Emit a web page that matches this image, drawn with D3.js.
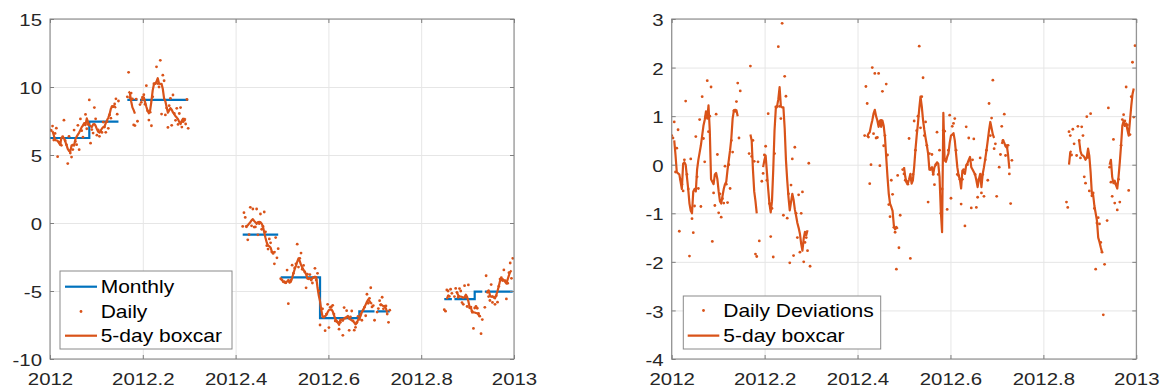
<!DOCTYPE html>
<html>
<head>
<meta charset="utf-8">
<script src="https://cdn.jsdelivr.net/npm/d3@7"></script>
<style>
  html, body { margin: 0; padding: 0; background: #fff; }
  svg { display: block; }
</style>
</head>
<body>
<svg id="chart" width="1163" height="389"></svg>
<script>
// ---------------------------------------------------------------------------
// Data: daily deviations from the monthly mean (day 0 = 1 Jan 2012), the
// 5-day boxcar of those deviations, and the monthly means.
// ---------------------------------------------------------------------------
const monthNames    = ["Jan","Feb","Mar","Apr","May","Jun","Jul","Aug","Sep","Oct","Nov","Dec"];
const monthStartDay = [0, 31, 60, 91, 121, 152, 182, 213, 244, 274, 305, 335];
const monthlyMean   = [6.25, 7.45, 9.05, 9.05, null, -0.85, -4.0, -7.0, -6.5, null, -5.6, -5.05];

// Daily deviations, one value per day from the given start day (null = no data)
const devJanFebStart = 0;
const devJanFeb = [0.6, 0.55, 0.88, -0.15, 0.34, 0.72, -1.37, -0.3, -0.4, -0.54,
  0.1, 1.31, -0.2, -0.5, -1.88, 0.12, -1.11, -1.40, -0.85, 0.58,
  -0.25, -0.49, 0.93, -0.86, 1.40, 0.54, 0.06, 1.0, 1.73, 0.68,
  1.0, 1.60, -1.58, -0.58, -0.84, 1.04, 0.21, -0.99, -0.6, -1.08,
  -0.7, -0.79, -0.03, -0.4, -0.78, 0.0, -0.49, 0.5, 0.26, 1.11,
  1.1, 1.3, 1.68, 0.55, 1.52];

const devMarAprStart = 61;
const devMarApr = [0.23, 2.03, 0.17, 0.5, 0.07, -1.84, -1.89, 0.06, -1.57, null,
  -0.34, -0.18, 0.2, 0.38, -0.32, 1.05, -0.80, -1.48, -0.9, -1.90,
  0.23, 1.19, 1.2, 2.43, 1.2, 0.95, 2.91, -1.04, 1.82, 1.41,
  -1.10, -0.6, -2.02, -0.42, 0.12, -1.87, 0.36, -1.0, -1.5, -0.62,
  -1.8, -1.00, -0.56, -2.0, -1.6, -1.5, -1.77, 0.03, -2.09];

const devJunStart = 152;
const devJun = [0.6, 1.61, 1.26, 0.57, -0.39, 0.0, 2.0, 0.64, 1.88, 0.55,
  0.56, 1.88, -0.02, 0.91, 1.51, 0.39, 0.6, 1.66, 0.2, -0.82,
  -1.07, -0.32, -0.61, -1.29, -1.39, -2.15, -0.22, -1.71, -1.04];

const devJulSepStart = 182;
const devJulSep = [-0.1, -0.19, -0.32, -0.34, -0.4, 0.54, -1.93, -0.32, -0.2, 0.90,
  0.3, 0.7, 1.0, 2.44, 0.76, 1.4, 1.79, 0.6, 0.88, 0.4,
  -0.77, 0.23, -0.1, 0.21, -0.2, -0.41, 0.0, 0.67, -0.2, 0.30,
  -1.0, -0.5, 0.71, 0.69, 0.1, -0.92, 0.3, 1.02, -0.69, 0.79,
  0.85, 0.95, 0.3, -0.2, -0.22, -0.3, -0.81, -0.3, -0.1, -1.26,
  0.78, 0.0, 0.55, 0.1, -0.89, 0.1, 0.53, -0.2, -0.88, -0.67,
  -0.3, 0.14, -0.58, -0.2, -0.65, 0.1, 0.3, -0.32, 1.26, 0.6,
  0.96, 1.74, 0.33, 0.43, -0.65, null, -0.05, 0.21, 0.79, 0.5,
  1.04, 0.19, 0.36, 0.4, -0.19, -0.80, 0.09];

const devNovDecStart = 311;
const devNovDec = [-0.77, -0.88, 0.68, 0.60, 0.2, 0.73, 0.43, null, 0.19, 0.79,
  0.5, 0.14, 0.78, 0.60, -0.25, -0.38, 0.99, 0.15, -0.54, 1.05,
  -0.64, -0.58, -0.9, -2.15, -1.2, -1.09, -1.22, -1.6, -1.8, -3.09,
  -2.05, null, -1.15, 1.17, -0.05, -0.36, -0.65, 0.52, -0.79, -0.4,
  -0.93, -0.3, -0.77, 0.4, 0.93, 1.03, 0.9, 1.60, 0.82, -0.53,
  0.62, 1.40, 2.11, 0.98, 2.45];

// 5-day boxcar of the deviations, one value per day from the given start day
const boxJanFebStart = 2;
const boxJanFeb = [0.5, 0.2, -0.15, -0.18, -0.2, -0.35, -0.5, 0.02, 0.05, 0.0,
  -0.25, -0.5, -0.8, -0.95, -1.0, -0.55, -0.5, -0.55, -0.1, 0.1,
  0.25, 0.4, 0.6, 0.8, 0.92, 1.1, 0.95, 1.22, 0.7, -0.3,
  -0.35, -0.4, -0.2, -0.17, -0.3, -0.55, -0.75, -0.8, -0.65, -0.5,
  -0.4, -0.35, -0.1, 0.1, 0.3, 0.55, 0.95, 1.12, 1.13, 1.12, 1.0];
const boxMarStart = 62;
const boxMar = [0.62, 0.5, -0.1, -0.55, -0.75, -1.0];
const boxMarAprStart = 72;
const boxMarApr = [-0.05, 0.09, 0.19, -0.15, -0.5, -0.8, -0.98, -0.75, -0.1, 0.7,
  1.15, 1.2, 1.35, 1.6, 1.2, 1.18, 1.18, 0.75, 0.1, -0.32,
  -0.67, -0.94, -0.77, -0.6, -0.72, -0.92, -1.05, -1.2, -1.3, -1.42,
  -1.63, -1.77, -1.52, -1.38, -1.45, -1.35];
const boxJunStart = 154;
const boxJun = [0.57, 0.64, 0.67, 0.8, 0.91, 1.05, 1.13, 1.0, 0.91, 0.78,
  0.91, 0.78, 0.91, 0.8, 0.57, 0.15, -0.25, -0.6, -0.8, -0.87,
  -0.95, -1.25, -1.33, -1.28, -1.32];
const boxJulSepStart = 183;
const boxJulSep = [-0.05, -0.25, -0.37, -0.39, -0.3, -0.19, -0.39, -0.32, -0.05, 0.3,
  0.6, 0.85, 1.15, 1.4, 1.2, 0.92, 0.72, 0.55, 0.4, 0.23,
  -0.1, -0.08, -0.05, -0.19, -0.05, 0.0, 0.05, 0.02, -0.25, -0.95,
  -1.39, 1.07, 0.09, 0.06, 0.16, 0.23, 0.45, 0.6, 0.62, 0.65,
  0.5, 0.23, -0.05, -0.22, -0.3, -0.49, -0.12, -0.15, -0.19, -0.01,
  0.03, 0.1, 0.16, -0.05, -0.1, -0.15, -0.2, -0.32, -0.46, -0.3,
  -0.19, -0.46, -0.19, -0.05, 0.12, 0.3, 0.5, 0.71, 0.88, 0.75,
  0.62, 0.55];
const boxSepStart = 260;
const boxSep = [0.43, 0.5, 0.45, 0.38, 0.4, 0.2, -0.08];
const boxNovStart = 313;
const boxNov = [0.0, 0.26, 0.28];
const boxLateNovStart = 321;
const boxLateNov = [0.49, 0.28, 0.2, 0.19, 0.16, 0.1, 0.15, 0.33, 0.18, -0.15,
  -0.6, -0.62, -0.85, -1.0, -1.15, -1.5, -1.59, -1.7, -1.8];
const boxDecStart = 345;
const boxDec = [0.0, 0.1, -0.25, -0.38, -0.33, -0.42, -0.49, -0.25, 0.05, 0.4,
  0.8, 0.9, 0.8, 0.85, 0.72, 0.6, 0.9, 1.2, 1.45, 1.57];

// Axis ticks
const xTickValues  = [2012, 2012.2, 2012.4, 2012.6, 2012.8, 2013];
const xTickLabels  = ["2012", "2012.2", "2012.4", "2012.6", "2012.8", "2013"];
const leftYTicks   = [-10, -5, 0, 5, 10, 15];
const rightYTicks  = [-4, -3, -2, -1, 0, 1, 2, 3];

// ---------------------------------------------------------------------------
// Derived series
// ---------------------------------------------------------------------------
const DAYS = 366; // 2012 is a leap year
const toYear = d => 2012 + d / DAYS;

const devSegments = [
  [devJanFebStart, devJanFeb], [devMarAprStart, devMarApr], [devJunStart, devJun],
  [devJulSepStart, devJulSep], [devNovDecStart, devNovDec]];
const boxSegments = [
  [boxJanFebStart, boxJanFeb], [boxMarStart, boxMar], [boxMarAprStart, boxMarApr],
  [boxJunStart, boxJun], [boxJulSepStart, boxJulSep], [boxSepStart, boxSep],
  [boxNovStart, boxNov], [boxLateNovStart, boxLateNov], [boxDecStart, boxDec]];

const devByDay = new Map();
devSegments.forEach(([s, vals]) => vals.forEach((v, i) => { if (v != null) devByDay.set(s + i, v); }));
const boxByDay = new Map();
boxSegments.forEach(([s, vals]) => vals.forEach((v, i) => boxByDay.set(s + i, v)));

const monthIndex = d => d3.bisectRight(monthStartDay, d) - 1;
const monthlyAt  = d => (d < 0 ? null : monthlyMean[monthIndex(d)]);
const dailyAt    = d => devByDay.has(d) ? monthlyAt(d) + devByDay.get(d) : null;

const allDays = d3.range(0, DAYS);

// Monthly mean, shown on the days that have daily data
const monthlySeries = allDays.map(d => ({ t: toYear(d), v: devByDay.has(d) ? monthlyAt(d) : null }));
// Daily values = monthly mean + deviation
const dailySeries = allDays.filter(d => devByDay.has(d)).map(d => ({ t: toYear(d), v: dailyAt(d) }));
const devSeries   = allDays.filter(d => devByDay.has(d)).map(d => ({ t: toYear(d), v: devByDay.get(d) }));
const boxDevSeries = allDays.map(d => ({ t: toYear(d), v: boxByDay.has(d) ? boxByDay.get(d) : null }));
// 5-day boxcar of the daily values: inside a month it is the monthly mean plus
// the boxcar of the deviations; across a month change, average the daily values.
const boxDailySeries = allDays.map(d => {
  const win = d3.range(d - 2, d + 3);
  if (monthIndex(d - 2) === monthIndex(d + 2) && boxByDay.has(d) && monthlyAt(d) != null) {
    return { t: toYear(d), v: monthlyAt(d) + boxByDay.get(d) };
  }
  if (win.every(k => devByDay.has(k))) return { t: toYear(d), v: d3.mean(win, dailyAt) };
  return { t: toYear(d), v: null };
});

// ---------------------------------------------------------------------------
// Drawing
// ---------------------------------------------------------------------------
const BLUE = "#0072BD", ORANGE = "#D95319";
const FONT = "'Liberation Sans', Arial, Helvetica, sans-serif";
const TICK_SIZE = 17, TICK_STRETCH = 1.2, LEGEND_STRETCH = 1.2;
const DOT_R = 1.4, LINE_W = 2.2;
const svg = d3.select("#chart");
const defs = svg.append("defs");

const panels = [
  { id: "left",
    x: d3.scaleLinear().domain([2012, 2013]).range([50, 514]),
    y: d3.scaleLinear().domain([-10, 15]).range([359, 19]),
    yTicks: leftYTicks },
  { id: "right",
    x: d3.scaleLinear().domain([2012, 2013]).range([671.7, 1136.3]),
    y: d3.scaleLinear().domain([-4, 3]).range([359, 19]),
    yTicks: rightYTicks }
];

function styleGrid(sel) {
  sel.select(".domain").remove();
  sel.selectAll(".tick line").attr("stroke", "#e6e6e6").attr("stroke-width", 1);
}

function drawGrid(p) {
  const [x0, x1] = p.x.range(), [y0, y1] = p.y.range();
  const g = svg.append("g");
  g.append("g").attr("transform", `translate(0,${y0})`)
    .call(d3.axisBottom(p.x).tickValues(xTickValues).tickSize(-(y0 - y1)).tickFormat(""))
    .call(styleGrid);
  g.append("g").attr("transform", `translate(${x0},0)`)
    .call(d3.axisLeft(p.y).tickValues(p.yTicks).tickSize(-(x1 - x0)).tickFormat(""))
    .call(styleGrid);
  defs.append("clipPath").attr("id", "clip-" + p.id)
    .append("rect").attr("x", x0).attr("y", y1).attr("width", x1 - x0).attr("height", y0 - y1);
}

function styleTicks(sel) {
  sel.select(".domain").remove();
  sel.selectAll(".tick line").attr("stroke", "#7f7f7f").attr("stroke-width", 1);
  sel.attr("font-family", FONT).attr("font-size", TICK_SIZE);
}

function drawAxes(p) {
  const [x0, x1] = p.x.range(), [y0, y1] = p.y.range();
  const g = svg.append("g");
  g.append("rect").attr("x", x0).attr("y", y1).attr("width", x1 - x0).attr("height", y0 - y1)
    .attr("fill", "none").attr("stroke", "#7f7f7f").attr("stroke-width", 1);

  g.append("g").attr("transform", `translate(0,${y0})`)
    .call(d3.axisBottom(p.x).tickValues(xTickValues).tickSize(-4)
      .tickFormat((d, i) => xTickLabels[i]))
    .call(styleTicks)
    .call(a => a.selectAll("text").attr("y", 0).attr("dy", null).attr("fill", "#262626")
      .attr("transform", `translate(0,26) scale(${TICK_STRETCH},1)`));

  g.append("g").attr("transform", `translate(0,${y1})`)
    .call(d3.axisTop(p.x).tickValues(xTickValues).tickSize(-4).tickFormat(""))
    .call(styleTicks);

  g.append("g").attr("transform", `translate(${x0},0)`)
    .call(d3.axisLeft(p.y).tickValues(p.yTicks).tickSize(-4).tickFormat(d => String(d)))
    .call(styleTicks)
    .call(a => a.selectAll("text").attr("x", 0).attr("dy", null).attr("fill", "#262626")
      .attr("transform", `translate(-8,6.6) scale(${TICK_STRETCH},1)`));

  g.append("g").attr("transform", `translate(${x1},0)`)
    .call(d3.axisRight(p.y).tickValues(p.yTicks).tickSize(-4).tickFormat(""))
    .call(styleTicks);
}

function lineGen(p, curve) {
  return d3.line().defined(d => d.v != null).x(d => p.x(d.t)).y(d => p.y(d.v)).curve(curve || d3.curveLinear);
}

function drawDots(g, p, series) {
  g.append("g").selectAll("circle").data(series).join("circle")
    .attr("cx", d => p.x(d.t)).attr("cy", d => p.y(d.v)).attr("r", DOT_R).attr("fill", ORANGE);
}

function legendText(g, x, y, label) {
  g.append("text").attr("transform", `translate(${x},${y}) scale(${LEGEND_STRETCH},1)`)
    .attr("font-family", FONT).attr("font-size", 17.5).attr("fill", "#000").text(label);
}

// ---- Left panel: monthly, daily and 5-day boxcar ----
const L = panels[0];
drawGrid(L);
const gL = svg.append("g").attr("clip-path", "url(#clip-left)");
gL.append("path").datum(monthlySeries).attr("d", lineGen(L, d3.curveStepAfter))
  .attr("fill", "none").attr("stroke", BLUE).attr("stroke-width", LINE_W);
drawDots(gL, L, dailySeries);
gL.append("path").datum(boxDailySeries).attr("d", lineGen(L))
  .attr("fill", "none").attr("stroke", ORANGE).attr("stroke-width", LINE_W).attr("stroke-linejoin", "round");
drawAxes(L);

const legL = svg.append("g");
legL.append("rect").attr("x", 60).attr("y", 271).attr("width", 172).attr("height", 78)
  .attr("fill", "#fff").attr("stroke", "#8a8a8a").attr("stroke-width", 1);
legL.append("line").attr("x1", 65).attr("x2", 97).attr("y1", 286.7).attr("y2", 286.7)
  .attr("stroke", BLUE).attr("stroke-width", LINE_W);
legendText(legL, 100.7, 293, "Monthly");
legL.append("circle").attr("cx", 81).attr("cy", 311.5).attr("r", DOT_R).attr("fill", ORANGE);
legendText(legL, 100.7, 318, "Daily");
legL.append("line").attr("x1", 65).attr("x2", 97).attr("y1", 335.7).attr("y2", 335.7)
  .attr("stroke", ORANGE).attr("stroke-width", LINE_W);
legendText(legL, 100.7, 342, "5-day boxcar");

// ---- Right panel: daily deviations and their 5-day boxcar ----
const R = panels[1];
drawGrid(R);
const gR = svg.append("g").attr("clip-path", "url(#clip-right)");
drawDots(gR, R, devSeries);
gR.append("path").datum(boxDevSeries).attr("d", lineGen(R))
  .attr("fill", "none").attr("stroke", ORANGE).attr("stroke-width", LINE_W).attr("stroke-linejoin", "round");
drawAxes(R);

const legR = svg.append("g");
legR.append("rect").attr("x", 683.3).attr("y", 296).attr("width", 197.4).attr("height", 53)
  .attr("fill", "#fff").attr("stroke", "#8a8a8a").attr("stroke-width", 1);
legR.append("circle").attr("cx", 703.5).attr("cy", 310.5).attr("r", DOT_R).attr("fill", ORANGE);
legendText(legR, 723.3, 317, "Daily Deviations");
legR.append("line").attr("x1", 687.7).attr("x2", 719.3).attr("y1", 335.7).attr("y2", 335.7)
  .attr("stroke", ORANGE).attr("stroke-width", LINE_W);
legendText(legR, 723.3, 342, "5-day boxcar");
</script>
</body>
</html>
